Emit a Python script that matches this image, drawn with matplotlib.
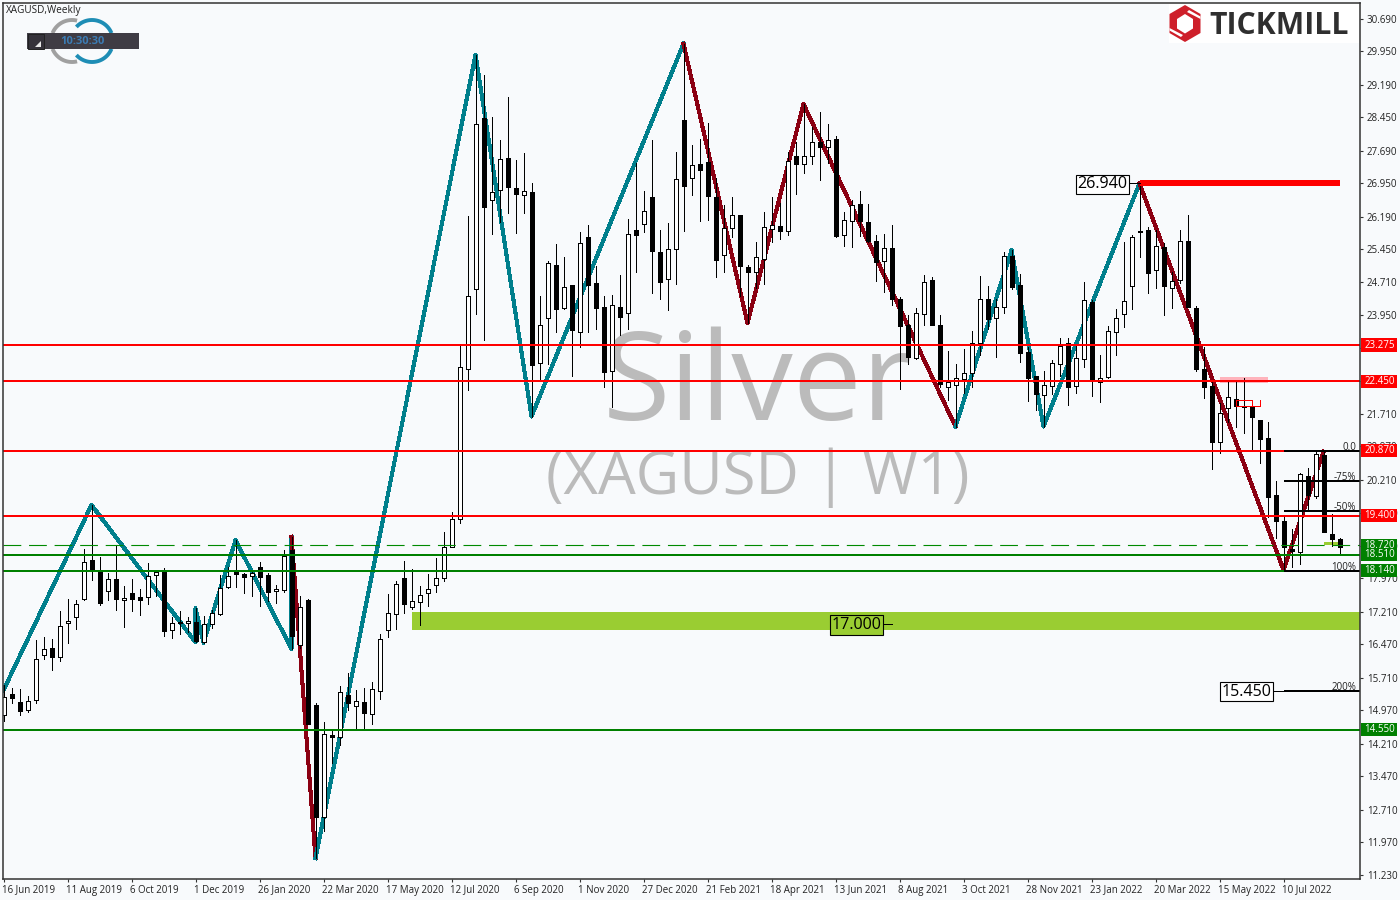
import numpy as np
import matplotlib
matplotlib.use("Agg")
import matplotlib.pyplot as plt
from matplotlib.patches import Rectangle, Polygon
from matplotlib.transforms import ScaledTranslation

plt.rcParams['font.family'] = ['Open Sans', 'DejaVu Sans']

opens = [14.86,15.34,15.15,14.99,15.20,16.22,16.38,16.18,16.95,17.09,
 17.50,18.40,18.12,17.68,17.95,17.47,17.63,17.54,17.54,18.04,
 18.12,16.79,16.98,16.95,16.97,16.53,16.93,17.17,17.77,18.12,
 18.07,18.02,18.22,18.04,17.68,17.70,18.62,16.46,17.48,15.09,
 12.54,14.40,14.37,15.31,15.08,15.16,14.90,15.42,16.79,17.17,
 17.99,17.33,17.43,17.65,17.81,17.99,18.68,19.31,22.74,24.54,
 28.43,26.58,26.79,27.52,26.84,26.69,26.75,22.86,23.90,25.09,
 24.12,24.65,23.56,25.72,24.68,24.15,22.68,24.15,24.00,25.90,
 26.02,26.63,25.38,24.77,25.45,28.38,27.06,27.38,27.43,26.63,
 25.31,25.93,26.22,25.04,24.94,25.22,25.92,25.98,25.87,27.56,
 27.38,27.56,27.90,27.77,27.95,25.77,26.09,26.47,26.06,25.65,
 25.18,25.49,24.31,23.72,22.99,23.97,24.75,23.72,22.31,22.36,
 22.51,22.65,23.31,24.31,23.88,24.13,25.30,24.64,23.12,22.57,
 22.15,22.35,22.84,23.31,22.34,22.95,24.25,22.43,22.54,23.56,
 23.97,24.61,25.85,25.88,24.99,25.50,24.56,24.75,25.64,24.12,
 22.72,22.34,21.08,21.84,22.05,21.90,21.90,21.56,21.16,19.86,
 19.27,18.65,18.56,20.29,19.84,20.77,18.99,18.86]
highs = [15.55,15.49,15.45,15.30,16.57,16.63,16.59,17.23,17.50,17.48,
 18.63,19.64,18.45,18.09,18.72,17.80,17.95,17.72,18.31,18.15,
 18.20,17.09,17.23,17.09,17.29,17.12,17.25,18.05,18.24,18.84,
 18.10,18.12,18.34,18.09,17.81,18.62,18.92,17.57,17.50,15.13,
 14.71,14.51,15.52,15.81,15.43,15.47,15.62,16.71,17.62,17.91,
 18.37,18.18,17.80,18.07,18.43,19.02,19.47,23.25,26.21,29.87,
 29.41,28.45,27.93,28.91,27.48,27.63,26.95,24.40,25.19,25.57,
 25.27,24.65,25.84,26.00,25.07,24.39,24.41,24.87,26.13,27.42,
 26.78,27.93,25.89,26.05,27.66,30.12,27.82,27.96,28.31,27.06,
 26.46,26.64,26.22,25.10,25.62,26.29,26.63,26.50,27.67,27.90,
 28.75,28.22,28.57,28.30,28.02,26.30,26.57,26.78,26.48,25.77,
 25.80,26.00,24.37,23.96,24.12,24.87,24.82,23.96,23.14,22.84,
 23.18,23.59,24.84,24.62,24.31,25.39,25.43,24.89,23.24,22.57,
 22.68,22.93,23.43,23.43,23.26,24.71,24.30,23.04,23.71,24.09,
 25.61,25.77,26.95,25.95,25.89,25.59,24.94,25.89,26.23,24.16,
 23.24,22.46,21.95,22.44,22.44,22.52,21.95,21.56,21.52,20.18,
 19.37,19.09,20.36,20.49,20.85,20.85,19.43,18.90]
lows = [14.74,15.13,14.87,14.93,15.13,16.15,15.89,16.10,16.51,16.83,
 17.48,17.93,17.37,17.48,17.25,16.87,17.24,17.15,17.39,17.56,
 16.67,16.62,16.71,16.76,16.52,16.51,16.84,17.15,17.75,17.78,
 17.65,17.58,17.35,17.46,17.42,17.67,16.37,16.38,14.66,11.61,
 12.24,13.77,14.18,14.99,14.54,14.57,14.66,15.23,16.64,16.82,
 17.18,17.27,16.91,17.34,17.66,17.91,18.68,19.24,22.25,23.98,
 23.40,25.80,26.06,26.28,25.83,26.28,21.65,22.48,22.84,23.56,
 24.10,22.57,23.22,23.56,23.63,22.31,21.87,23.51,23.65,24.94,
 25.84,24.46,24.33,24.08,24.67,25.87,26.69,26.10,26.12,24.81,
 24.94,25.74,24.39,23.77,24.56,24.67,25.62,25.68,25.78,26.71,
 27.19,27.40,27.03,27.42,25.74,25.53,25.51,25.75,25.62,24.74,
 24.49,24.19,22.28,22.84,22.96,23.73,23.72,22.31,22.02,21.42,
 22.19,22.33,23.04,23.65,23.01,24.01,24.54,22.90,22.01,21.80,
 21.42,22.16,22.58,21.92,22.18,22.78,22.12,21.99,22.52,23.05,
 23.69,24.09,25.28,24.46,24.56,23.96,24.12,24.68,24.13,22.68,
 22.08,20.45,20.83,21.53,21.42,21.27,20.90,20.60,19.37,18.90,
 18.16,18.22,18.29,19.51,19.79,19.02,18.71,18.52]
closes = [15.28,15.26,14.96,15.18,16.15,16.36,16.18,16.90,17.00,17.38,
 18.34,18.16,17.42,17.95,17.50,17.52,17.51,17.49,18.02,18.11,
 16.78,16.95,16.96,17.00,16.55,16.93,17.18,17.75,18.02,18.08,
 18.01,18.09,18.01,17.67,17.72,18.47,16.67,17.31,14.67,12.55,
 14.43,14.37,15.38,15.15,15.18,14.92,15.45,16.59,17.18,17.84,
 17.40,17.45,17.59,17.74,17.99,18.69,19.31,22.77,24.38,28.29,
 26.42,26.75,27.50,26.87,26.71,26.77,22.83,23.72,25.13,24.10,
 24.59,23.62,25.59,24.65,24.12,22.67,24.18,23.92,25.79,25.78,
 26.31,25.42,24.71,25.45,27.04,26.90,27.36,27.26,26.67,25.21,
 25.93,26.22,25.06,24.94,25.27,25.95,26.00,25.87,27.45,27.40,
 27.56,27.90,27.78,27.93,25.76,26.11,26.45,26.10,25.64,25.17,
 25.47,24.31,23.71,23.01,24.01,24.70,23.73,22.38,22.43,22.52,
 22.63,23.31,24.31,23.87,24.15,25.29,24.60,23.10,22.53,22.17,
 22.36,22.86,23.26,22.33,22.97,24.29,22.48,22.52,23.59,23.88,
 24.27,25.72,25.86,24.92,25.52,24.62,24.74,25.65,24.15,22.74,
 22.33,21.08,21.74,22.09,21.90,21.86,21.65,21.13,19.83,19.28,
 18.69,18.59,20.34,19.87,20.79,19.03,18.87,18.69]

date_labels = ['16 Jun 2019','11 Aug 2019','6 Oct 2019','1 Dec 2019','26 Jan 2020','22 Mar 2020',
 '17 May 2020','12 Jul 2020','6 Sep 2020','1 Nov 2020','27 Dec 2020','21 Feb 2021','18 Apr 2021',
 '13 Jun 2021','8 Aug 2021','3 Oct 2021','28 Nov 2021','23 Jan 2022','20 Mar 2022','15 May 2022','10 Jul 2022']
date_step = 8

price_ticks = [30.69,29.95,29.19,28.45,27.69,26.95,26.19,25.45,24.71,23.95,23.21,22.45,21.71,20.97,
 20.21,19.45,18.71,17.97,17.21,16.47,15.71,14.97,14.21,13.47,12.71,11.97,11.23]

teal_idx_1 = [0,11,24,24,25,29,36,36]
teal_val_1 = [15.43,19.64,16.52,17.29,16.51,18.84,16.37,18.92]
red_idx_1 = [36,39]
red_val_1 = [18.92,11.61]
teal_idx_2 = [39,59,66,85]
teal_val_2 = [11.61,29.87,21.65,30.12]
red_idx_2 = [85,93,100,119]
red_val_2 = [30.12,23.77,28.75,21.42]
teal_idx_3 = [119,126,130,142]
teal_val_3 = [21.42,25.43,21.42,26.95]
red_idx_3 = [142,160,165]
red_val_3 = [26.95,18.16,20.85]

red_levels = [23.275,22.45,20.87,19.40]
green_levels = [18.51,18.14,14.53]
green_dash = 18.72
tag_red = ['23.275','22.450','20.870','19.400']
tag_green = ['18.720','18.510','18.140','14.550']
tag_green_vals = [18.72,18.51,18.14,14.53]

fib_levels = [20.87,20.19,19.51,18.14,15.42]
fib_labels = ['0.0','-75%','-50%','100%','200%']

BG = '#F8FAFC'
TEAL = '#007F8C'
DRED = '#8B0012'
RED = '#FF0000'
GRN = '#008000'
LIME = '#9ACD32'
AXC = '#333333'
TXT = '#222222'
FS = 7.0

W, H = 1400, 900
fig = plt.figure(figsize=(14, 9), dpi=100, facecolor=BG)
L, R, T, B = 2.5, 1360.0, 2.5, 879.0
ax = fig.add_axes([L/W, 1-B/H, (R-L)/W, (B-T)/H], facecolor=BG)
ax.set_xlim((L-3.5)/8, (R-3.5)/8)
ax.set_ylim(26.95-(B-183.3)/44, 26.95+(183.3-T)/44)

n = len(opens)
x = np.arange(n)
o, h, l, c = map(np.array, (opens, highs, lows, closes))
up = c >= o
xmin, xmax = ax.get_xlim()

# watermark
ax.text(94.3, 21.57, 'Silver', fontsize=88.5, color='#BBBBBB', ha='center', va='baseline', zorder=1)
ax.text(94.3, 19.88, '(XAGUSD | W1)', fontsize=43, color='#BBBBBB', ha='center', va='baseline', zorder=1)

# zones
ax.add_patch(Rectangle((51, 16.80), xmax-51, 17.207-16.80, fc=LIME, ec='none', zorder=2))
ax.add_patch(Rectangle((165, 18.72), 2, 0.07, fc=LIME, ec='none', zorder=2))
ax.add_patch(Rectangle((152, 22.42), 6, 0.13, fc='#FFB3BC', ec='none', zorder=2))

# zigzag
for xs, ys, col in [(teal_idx_1, teal_val_1, TEAL), (red_idx_1, red_val_1, DRED),
                    (teal_idx_2, teal_val_2, TEAL), (red_idx_2, red_val_2, DRED),
                    (teal_idx_3, teal_val_3, TEAL), (red_idx_3, red_val_3, DRED)]:
    ax.plot(xs, ys, color=col, lw=2.2, zorder=3, antialiased=False, solid_joinstyle='round')

# candles
ax.vlines(x, l, h, color='black', lw=0.72, zorder=4, antialiased=False)
ax.bar(x[up], (c-o)[up], bottom=o[up], width=0.5, facecolor='white', edgecolor='black', linewidth=0.72, zorder=4.2, antialiased=False)
ax.bar(x[~up], (o-c)[~up], bottom=c[~up], width=0.5, facecolor='black', edgecolor='black', linewidth=0.72, zorder=4.2, antialiased=False)

# level lines
ax.hlines(red_levels, xmin, xmax, color=RED, lw=1.4, zorder=5, antialiased=False)
ax.hlines(green_levels, xmin, xmax, color=GRN, lw=1.4, zorder=5, antialiased=False)
ax.hlines(green_dash, xmin, xmax, color='#008A00', lw=0.8, linestyles=(0, (16, 7)), zorder=5)
ax.hlines(26.95, 142, 167, color=RED, lw=2.9, zorder=5, antialiased=False)

# small red marks
ax.add_patch(Rectangle((154, 21.89), 2.1, 0.13, fc='none', ec=RED, lw=0.72, zorder=5, antialiased=False))
ax.plot([156.1, 157, 157], [21.89, 21.89, 22.03], color=RED, lw=0.72, zorder=5, antialiased=False)

# fibo
ax.hlines(fib_levels, 160, xmax, color='black', lw=1.4, zorder=5.2, antialiased=False)
for v, s in zip(fib_levels, fib_labels):
    ax.text(169.1, v-0.05, s, fontsize=FS, color=TXT, ha='right', va='bottom', zorder=6)

# price labels
ax.hlines(26.95, 140.7, 142, color='black', lw=0.72, zorder=5, antialiased=False)
ax.hlines(16.93, 109.8, 111.1, color='black', lw=0.72, zorder=5, antialiased=False)
ax.hlines(15.42, 158.7, 160, color='black', lw=0.72, zorder=5, antialiased=False)
for xp, yp, s, fc in [(137.4, 26.93, '26.940', 'white'), (106.6, 16.91, '17.000', LIME), (155.4, 15.40, '15.450', 'white')]:
    ax.text(xp, yp, s, fontsize=11.6, color='black', ha='center', va='center', zorder=7,
            bbox=dict(boxstyle='square,pad=0.1', fc=fc, ec='black', lw=0.8))

# axis
for s in ['left', 'top', 'right', 'bottom']:
    ax.spines[s].set_color(AXC)
    ax.spines[s].set_linewidth(1.1)
    ax.spines[s].set_zorder(8)
ax.yaxis.tick_right()
ax.set_yticks(price_ticks)
ax.set_yticklabels([f'{v:.3f}' for v in price_ticks], fontsize=FS, color=TXT)
ax.tick_params(axis='y', length=2.5, width=0.8, color=AXC, pad=2.5)
ax.set_xticks(np.arange(len(date_labels))*date_step)
ax.set_xticklabels(date_labels, fontsize=FS, color=TXT, ha='left')
ax.tick_params(axis='x', length=2.5, width=0.8, color=AXC, pad=1.5)
shift = ScaledTranslation(-1.0/72, 0, fig.dpi_scale_trans)
for lab in ax.get_xticklabels():
    lab.set_transform(lab.get_transform() + shift)

# price tags
ytr = ax.get_yaxis_transform()
for v, s in zip(red_levels, tag_red):
    ax.add_patch(Rectangle((1.0008, v-0.148), 0.0268, 0.296, transform=ytr, fc=RED, ec='none', clip_on=False, zorder=9))
    ax.text(1.0145, v, s, transform=ytr, fontsize=FS, color='white', ha='center', va='center', zorder=10, clip_on=False)
for v, s in zip(tag_green_vals, tag_green):
    ax.add_patch(Rectangle((1.0008, v-0.148), 0.0268, 0.296, transform=ytr, fc=GRN, ec='none', clip_on=False, zorder=9))
    ax.text(1.0145, v, s, transform=ytr, fontsize=FS, color='white', ha='center', va='center', zorder=10, clip_on=False)

# pixel overlay for the decorations
ov = fig.add_axes([0, 0, 1, 1], facecolor='none')
ov.set_xlim(0, W)
ov.set_ylim(H, 0)
ov.axis('off')

ov.text(6, 11, 'XAGUSD,Weekly', fontsize=7.2, color=TXT, ha='left', va='center')

# clock widget
t = np.radians(np.linspace(202, 284, 50))
ov.plot(72+21*np.cos(t), 41+21*np.sin(t), color='#A0A0A0', lw=2.8, solid_capstyle='butt')
t = np.radians(np.linspace(76, 158, 50))
ov.plot(72+21*np.cos(t), 41+21*np.sin(t), color='#A0A0A0', lw=2.8, solid_capstyle='butt')
t = np.radians(np.linspace(222, 338, 50))
ov.plot(92+21*np.cos(t), 41+21*np.sin(t), color='#1E8DB5', lw=2.8, solid_capstyle='butt')
t = np.radians(np.linspace(22, 138, 50))
ov.plot(92+21*np.cos(t), 41+21*np.sin(t), color='#1E8DB5', lw=2.8, solid_capstyle='butt')
ov.add_patch(Rectangle((27, 33), 112, 16, fc='#3F3C44', ec='none', zorder=3))
ov.add_patch(Rectangle((27.5, 33.5), 16, 15, fc='#35323A', ec='#222222', lw=0.7, zorder=3.1))
ov.add_patch(Polygon([(35, 47), (41, 47), (41, 41)], fc='#E8E8E8', ec='none', zorder=3.2))
ov.text(82, 41, '10:30:30', fontsize=8, fontweight='bold', color='#3C7CB4', ha='center', va='center', zorder=4)

# logo
ov.add_patch(Rectangle((1169, 4), 190, 38.5, fc='white', ec='none', zorder=1))
ov.add_patch(Polygon([(1185, 5), (1200.5, 14), (1200.5, 33), (1185, 42), (1169.5, 33), (1169.5, 14)], fc='#CE1F2A', ec='none', zorder=2))
ov.add_patch(Polygon([(1185, 14), (1193, 19), (1193, 28.5), (1185, 33.5), (1177, 28.5), (1177, 19)], fc='white', ec='none', zorder=3))
ov.add_patch(Polygon([(1187, 12), (1200.5, 19), (1200.5, 16.5), (1189, 10)], fc='white', ec='none', zorder=3))
ov.add_patch(Polygon([(1183, 35), (1169.5, 28), (1169.5, 30.5), (1181, 37)], fc='white', ec='none', zorder=3))
ov.text(1209, 34, 'TICKMILL', fontsize=21.7, fontweight='bold', color='#2F2F2F', ha='left', va='baseline', zorder=3)

fig.savefig('out.png', dpi=100, facecolor=BG)
